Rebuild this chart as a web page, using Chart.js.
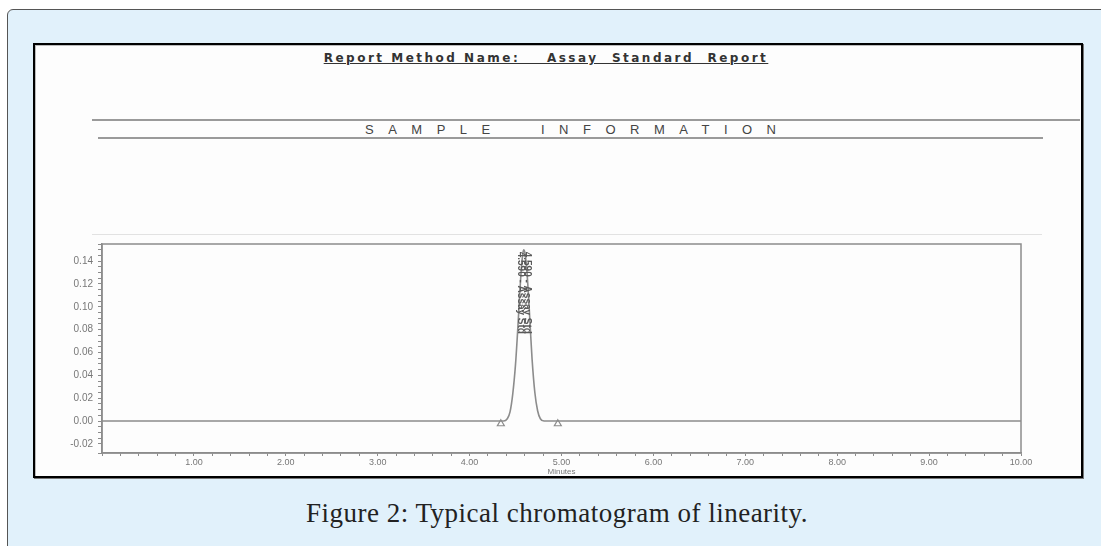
<!DOCTYPE html>
<html>
<head>
<meta charset="utf-8">
<script src="https://cdn.jsdelivr.net/npm/chart.js@4.4.0/dist/chart.umd.min.js"></script>
<style>
  body { margin: 0; width: 1101px; height: 546px; overflow: hidden; background: #fff; position: relative; font-family: "Liberation Sans", Arial, sans-serif; }
  .outer { position: absolute; left: 7px; top: 9px; width: 1110px; height: 560px; background: #e1f1fb; border: 1px solid #555; border-radius: 6px; }
  .frame { position: absolute; left: 33px; top: 43px; width: 1046px; height: 431px; background: #fdfdfd; border: 2px solid #000; box-shadow: inset 1px 1px 0 #bbb, 1px 1px 0 #777; }
  .t { position: absolute; white-space: pre; }
  .hline { position: absolute; height: 2px; background: #9a9a9a; }
  #wrap { position: absolute; left: 40px; top: 230px; }
</style>
</head>
<body>
<div class="outer"></div>
<div class="frame"></div>
<div class="t" style="left:546px; top:51px; transform:translateX(-50%); font:bold 12px 'DejaVu Sans'; letter-spacing:2.5px; color:#333; text-decoration:underline;">Report Method Name:    Assay  Standard  Report</div>
<div class="hline" style="left:92px; top:119px; width:988px;"></div>
<div class="t" style="left:365px; top:122px; font:13px 'Liberation Sans'; letter-spacing:14.5px; color:#444;">SAMPLE  INFORMATION</div>
<div class="hline" style="left:98px; top:137px; width:945px;"></div>
<div class="hline" style="left:92px; top:234px; width:950px; height:1px; background:#e2e2e2;"></div>
<div id="wrap"><canvas id="crom" width="1030" height="250"></canvas></div>
<div class="t" style="left:557px; top:497px; transform:translateX(-50%); font:27px 'Liberation Serif'; letter-spacing:0.5px; color:#222; line-height:32px;">Figure 2: Typical chromatogram of linearity.</div>

<script>
// chromatogram trace (minutes, AU)
const minutes = [0, 4.30, 4.37, 4.41, 4.44, 4.47, 4.50, 4.52, 4.54, 4.56, 4.58, 4.59, 4.60, 4.62, 4.64, 4.66, 4.68, 4.71, 4.74, 4.77, 4.81, 10.0];
const signal  = [0, 0, 0.000, 0.002, 0.008, 0.024, 0.050, 0.075, 0.103, 0.130, 0.147, 0.150, 0.148, 0.135, 0.111, 0.082, 0.054, 0.025, 0.009, 0.002, 0.000, 0];

// baseline start / end markers
const markTimes  = [4.34, 4.96];
const markSignal = [-0.0024, -0.0024];

const peakTime = 4.59;
const peakLabel = '4.590 - Assay Std';

const xLabels = ['1.00', '2.00', '3.00', '4.00', '5.00', '6.00', '7.00', '8.00', '9.00', '10.00'];
const yLabels = ['-0.02', '0.00', '0.02', '0.04', '0.06', '0.08', '0.10', '0.12', '0.14'];

const gris = '#8c8c8c';

const marco = {
    id: 'marco',
    beforeDatasetsDraw(chart) {
        const a = chart.chartArea;
        const ctx = chart.ctx;
        ctx.save();
        ctx.strokeStyle = gris;
        ctx.lineWidth = 1.5;
        ctx.strokeRect(a.left, a.top, a.right - a.left, a.bottom - a.top);
        ctx.restore();
    },
    afterDatasetsDraw(chart) {
        const ctx = chart.ctx;
        const x = chart.scales.x.getPixelForValue(peakTime);
        const y = chart.scales.y.getPixelForValue(0.150);
        ctx.save();
        ctx.translate(x, y);
        ctx.rotate(Math.PI / 2);
        ctx.font = 'bold 10px "Liberation Sans"';
        ctx.fillStyle = '#5a5a5a';
        ctx.textBaseline = 'middle';
        ctx.fillText(peakLabel, 2, -3);
        ctx.fillText(peakLabel, 2, 3);
        ctx.restore();
    }
};

const ctx = document.getElementById('crom').getContext('2d');
const myChart = new Chart(ctx, {
    type: 'scatter',
    data: {
        datasets: [{
            data: minutes.map((m, i) => ({ x: m, y: signal[i] })),
            showLine: true,
            borderColor: gris,
            borderWidth: 1.6,
            pointRadius: 0,
            cubicInterpolationMode: 'monotone'
        }, {
            data: markTimes.map((m, i) => ({ x: m, y: markSignal[i] })),
            pointStyle: 'triangle',
            pointRadius: 4,
            borderColor: gris,
            borderWidth: 1.2,
            backgroundColor: 'rgba(0,0,0,0)'
        }]
    },
    plugins: [marco],
    options: {
        responsive: false,
        animation: false,
        layout: { padding: { top: 14, right: 49, bottom: 0, left: 0 } },
        plugins: {
            legend: { display: false },
            tooltip: { enabled: false }
        },
        scales: {
            x: {
                type: 'linear',
                min: 0,
                max: 10,
                afterFit(scale) { scale.height = 27; },
                border: { display: true, color: gris, width: 1.5 },
                grid: { drawOnChartArea: false, tickLength: 3, color: gris },
                ticks: {
                    stepSize: 0.2,
                    autoSkip: false,
                    maxRotation: 0,
                    padding: 1,
                    color: '#777',
                    font: { size: 9, family: 'Liberation Sans' },
                    callback(v) {
                        const r = Math.round(v);
                        if (Math.abs(v - r) < 1e-6 && r >= 1) return xLabels[r - 1];
                        return '';
                    }
                },
                title: {
                    display: true,
                    text: 'Minutes',
                    color: '#777',
                    font: { size: 8, family: 'Liberation Sans' },
                    padding: { top: 0, bottom: 3 }
                }
            },
            y: {
                min: -0.028,
                max: 0.155,
                afterFit(scale) { scale.width = 62; },
                border: { display: true, color: gris, width: 1.5 },
                grid: { drawOnChartArea: false, tickLength: 4, color: gris },
                ticks: {
                    stepSize: 0.005,
                    autoSkip: false,
                    padding: 5,
                    color: '#777',
                    font: { size: 10, family: 'Liberation Sans' },
                    callback(v) {
                        const k = Math.round(v / 0.02);
                        if (Math.abs(v - k * 0.02) < 1e-6) return yLabels[k + 1];
                        return '';
                    }
                }
            }
        }
    }
});
</script>
</body>
</html>
